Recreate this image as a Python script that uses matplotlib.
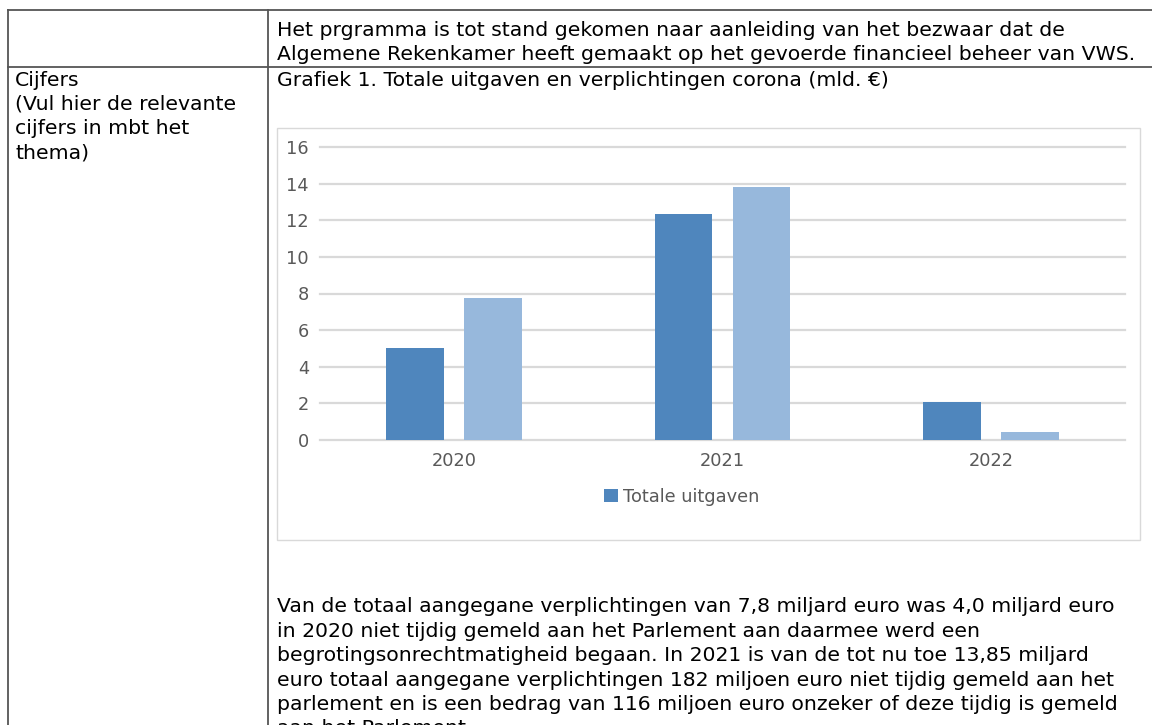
import matplotlib.pyplot as plt
from matplotlib.lines import Line2D
from matplotlib.patches import Rectangle

# data
years = ['2020', '2021', '2022']
uitgaven = [5.05, 12.35, 2.05]
verplichtingen = [7.78, 13.8, 0.43]
yticks = [0, 2, 4, 6, 8, 10, 12, 14, 16]
legend_labels = ['Totale uitgaven']

header_lines = [
    'Het prgramma is tot stand gekomen naar aanleiding van het bezwaar dat de',
    'Algemene Rekenkamer heeft gemaakt op het gevoerde financieel beheer van VWS.',
]
left_lines = ['Cijfers', '(Vul hier de relevante', 'cijfers in mbt het', 'thema)']
chart_title = 'Grafiek 1. Totale uitgaven en verplichtingen corona (mld. \u20ac)'
paragraph = [
    'Van de totaal aangegane verplichtingen van 7,8 miljard euro was 4,0 miljard euro',
    'in 2020 niet tijdig gemeld aan het Parlement aan daarmee werd een',
    'begrotingsonrechtmatigheid begaan. In 2021 is van de tot nu toe 13,85 miljard',
    'euro totaal aangegane verplichtingen 182 miljoen euro niet tijdig gemeld aan het',
    'parlement en is een bedrag van 116 miljoen euro onzeker of deze tijdig is gemeld',
    'aan het Parlement.',
]

W, H = 1152, 725
DARK = '#4f86bd'
LIGHT = '#97b8dc'
GRID = '#d9d9d9'
TICK = '#595959'
TEXT_FONT = 'DejaVu Sans'


def fx(px):
    return px / W


def fy(py):
    return 1 - py / H


fig = plt.figure(figsize=(W / 100, H / 100), dpi=100, facecolor='white')

# table lines
line_kw = dict(color='#555555', linewidth=1.3, transform=fig.transFigure)
fig.add_artist(Line2D([fx(8), 1], [fy(10), fy(10)], **line_kw))
fig.add_artist(Line2D([fx(8), 1], [fy(67), fy(67)], **line_kw))
fig.add_artist(Line2D([fx(8), fx(8)], [fy(10), 0], **line_kw))
fig.add_artist(Line2D([fx(268), fx(268)], [fy(10), 0], **line_kw))

# table texts
txt_kw = dict(fontsize=14.7, family=TEXT_FONT, color='black', va='center', ha='left')
for i, s in enumerate(header_lines):
    fig.text(fx(277), fy(31 + i * 23.5), s, **txt_kw)
for i, s in enumerate(left_lines):
    fig.text(fx(15), fy(80 + i * 24.3), s, **txt_kw)
fig.text(fx(277), fy(80), chart_title, **txt_kw)
for i, s in enumerate(paragraph):
    fig.text(fx(277), fy(607 + i * 24.4), s, **txt_kw)

# chart frame, drawn below the axes
fig.add_artist(Rectangle((fx(277), fy(540)), fx(1140 - 277), (540 - 128) / H,
                         transform=fig.transFigure, facecolor='white',
                         edgecolor=GRID, linewidth=1.0, zorder=-1))

ax = fig.add_axes([fx(320), fy(440), fx(1125 - 320), (440 - 147) / H])
ax.set_facecolor('none')
ax.set_zorder(2)
x = list(range(len(years)))
width = 0.215
offset = 0.145
b1 = ax.bar([i - offset for i in x], uitgaven, width, color=DARK, zorder=3)
b2 = ax.bar([i + offset for i in x], verplichtingen, width, color=LIGHT, zorder=3)

ax.set_xlim(-0.5, len(years) - 0.5)
ax.set_ylim(0, 16)
ax.set_yticks(yticks)
ax.set_xticks(x)
ax.set_xticklabels(years)
ax.yaxis.grid(True, color=GRID, linewidth=1.6, zorder=0)
for gl in ax.get_ygridlines():
    gl.set_clip_on(False)
ax.set_axisbelow(True)
for side in ['top', 'right', 'left', 'bottom']:
    ax.spines[side].set_visible(False)
ax.tick_params(axis='both', length=0, labelsize=12.8, labelcolor=TICK)
ax.tick_params(axis='x', pad=9)
ax.tick_params(axis='y', pad=8)

ax.legend([b1], legend_labels, loc='center', bbox_to_anchor=(fx(682), fy(497)),
          bbox_transform=fig.transFigure, frameon=False, fontsize=12.8,
          labelcolor=TICK, handlelength=0.75, handleheight=0.75,
          handletextpad=0.3)

fig.savefig('out.png', dpi=100)
